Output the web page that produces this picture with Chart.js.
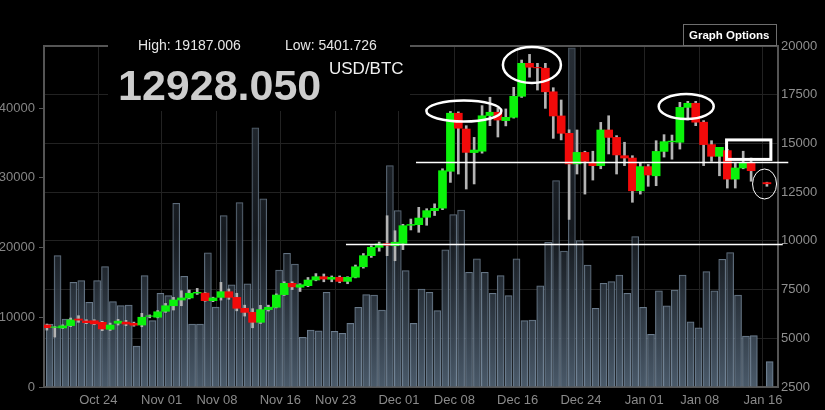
<!DOCTYPE html>
<html>
<head>
<meta charset="utf-8">
<script src="https://cdn.jsdelivr.net/npm/chart.js@4.4.1/dist/chart.umd.min.js"></script>
<style>
  html, body { margin: 0; padding: 0; background: #000; }
  #wrap { width: 825px; height: 410px; }
</style>
</head>
<body>
<div id="wrap"><canvas id="chart" width="825" height="410"></canvas></div>
<script>
// daily candles, Oct 17 .. Jan 16 (index 0 = Oct 17), null = no trade that day
const openP = [5680,5560,5530,5650,5990,5890,5900,5820,5460,5770,5830,5770,5680,6130,6080,
  6385,6670,6965,7070,7320,7320,6930,7100,7390,7100,6540,6330,5820,6470,6590,
  7240,7820,7620,7700,7990,8160,8030,8130,7920,8130,8670,9240,9670,9860,9750,
  9870,10800,10830,11210,11550,11680,13570,16550,15740,14530,14600,16430,16600,16170,16340,
  17420,19110,18900,18860,17650,16410,15520,13950,14540,14030,13860,15690,15310,14370,14250,
  12570,13810,13340,14590,15080,15060,16850,17060,16090,14940,14340,14630,13170,13740,14030,
  null,12990];
const highP = [5730,5600,5690,6040,6160,5950,5950,5870,5780,5970,5920,5830,6280,6200,6420,
  6790,7100,7440,7480,7560,7350,7110,7870,7530,7310,6700,6520,6690,6700,7280,
  7900,7900,7800,8120,8320,8300,8200,8200,8160,8760,9350,9750,9940,11290,10520,
  10850,11120,11720,11650,11900,13700,16640,16620,15910,15310,16940,17370,16820,16770,17880,
  19280,19570,19110,19110,17860,17230,15700,15690,14600,14600,16080,16420,15400,15060,14370,
  14000,13920,15140,15450,15430,17110,17160,17160,16170,15140,14800,14700,14030,14600,14250,
  null,13010];
const lowP = [5420,5060,5500,5600,5820,5750,5700,5390,5400,5680,5650,5620,5590,6050,6050,
  6330,6450,6670,7020,7250,6900,6880,6960,7000,6410,6140,5540,5760,6400,6560,
  7200,7500,7400,7650,7950,7900,7900,7850,7800,8100,8600,9150,9470,9240,8980,
  9550,10560,10440,10800,11300,11600,13000,13430,12660,12920,14500,15910,15330,15900,16300,
  17360,18400,17740,16800,15260,15180,11100,13430,12400,13120,13700,14460,13430,13860,11980,
  12400,12800,12830,14300,14190,14710,16200,15910,13860,14080,13340,12710,12710,13700,13060,
  null,12800];
const closeP = [5545,5580,5640,5940,5930,5800,5740,5480,5680,5880,5730,5670,6080,6150,6360,
  6670,6965,7070,7310,7360,6930,7070,7390,7100,6540,6330,5820,6470,6590,7220,
  7820,7640,7750,7990,8160,8040,8130,7920,8130,8670,9240,9670,9840,9770,9930,
  10780,10840,11170,11550,11670,13600,16550,15780,14540,14660,16420,16600,16200,16340,17420,
  19110,18910,18880,17650,16410,15520,13950,14540,14080,13860,15690,15310,14410,14250,12570,
  13810,13380,14590,15090,15120,16850,17060,16090,14940,14340,14800,13170,13740,14030,13600,
  null,12928];
const volume = [9030,18830,9750,15010,15250,12150,15250,17250,12240,11660,11760,5880,15960,9510,13440,
  13100,26340,15850,9030,9030,19240,11450,24570,14650,26430,14800,37140,26960,11500,16780,
  19170,17640,7130,8170,8070,13580,7990,7700,9130,11430,13240,13190,11040,31730,25280,
  16680,9130,14050,13580,10940,19650,24710,25380,16450,18360,16450,13440,15960,13090,18360,
  9510,9610,14500,20750,29580,19500,48610,20980,17490,11290,14870,15100,16060,13440,21550,
  11430,7560,13770,11620,13910,16060,9360,8500,16530,13770,18310,19260,13190,7310,7360,
  0,3630];

// x axis: days counted from Oct 24 00:00
const tickDays = [0, 8, 15, 23, 30, 38, 45, 53, 61, 69, 76, 84];
const tickLabels = ["Oct 24","Nov 01","Nov 08","Nov 16","Nov 23","Dec 01","Dec 08","Dec 16","Dec 24","Jan 01","Jan 08","Jan 16"];
const priceTicks = [2500, 5000, 7500, 10000, 12500, 15000, 17500, 20000];
const volumeTicks = [0, 10000, 20000, 30000, 40000];

const headHigh = "High: 19187.006";
const headLow = "Low: 5401.726";
const lastPrice = "12928.050";
const pair = "USD/BTC";

const UP = "#0af20a", DOWN = "#f20a0a", WICK = "#b4b4b4";
const FONT = "'Liberation Sans', Arial, sans-serif";

const bodies = [], wicks = [], bodyColors = [], vols = [];
openP.forEach((o, i) => {
  const day = i - 6.5;
  vols.push({ x: day + 0.35, y: volume[i] });
  if (o === null) return;
  bodies.push({ x: day, y: [o, closeP[i]] });
  wicks.push({ x: day, y: [lowP[i], highP[i]] });
  bodyColors.push(closeP[i] >= o ? UP : DOWN);
});

// hand-drawn marks on the picture
const marks = {
  lines: [ { from: 40.15, to: 87.2, price: 14050 }, { from: 31.3, to: 86.5, price: 9840 } ],
  ellipses: [
    { day: 46.2, price: 16664, rx: 37.5, ry: 10.5, w: 2.5 },
    { day: 54.8, price: 19025, rx: 29, ry: 18, w: 2.5 },
    { day: 74.3, price: 16895, rx: 27.5, ry: 12.5, w: 2.5 },
    { day: 84.2, price: 12918, rx: 12, ry: 15, w: 1 }
  ],
  box: { from: 79.4, to: 85.0, top: 15180, bottom: 14180, w: 3 }
};

let volGrad = null, volBorder = null;
function volFill(ctx) {
  const area = ctx.chart.chartArea;
  if (!area) return "#333";
  if (!volGrad) {
    const c = ctx.chart.ctx;
    volGrad = c.createLinearGradient(0, area.top, 0, area.bottom);
    volGrad.addColorStop(0, "rgba(46,54,63,0.85)");
    volGrad.addColorStop(0.55, "rgba(24,29,35,0.85)");
    volGrad.addColorStop(1, "rgba(80,97,114,0.92)");
    volBorder = c.createLinearGradient(0, area.top, 0, area.bottom);
    volBorder.addColorStop(0, "rgba(80,92,104,0.9)");
    volBorder.addColorStop(1, "rgba(128,148,168,0.9)");
  }
  return volGrad;
}

const plain = v => String(v);

const overlay = {
  id: "overlay",
  beforeDatasetsDraw(chart) {
    const { ctx, chartArea: a } = chart;
    ctx.save();
    ctx.strokeStyle = "#555";
    ctx.lineWidth = 2;
    ctx.strokeRect(a.left, a.top, a.right - a.left, a.bottom - a.top);
    ctx.fillStyle = "#000";
    ctx.fillRect(108, 0, 302, 111);
    ctx.restore();
  },
  afterDatasetsDraw(chart) {
    const { ctx } = chart;
    const xs = chart.scales.x, ys = chart.scales.yP;
    ctx.save();
    ctx.strokeStyle = "#fff";
    ctx.lineWidth = 1.5;
    marks.lines.forEach(l => {
      const y = Math.round(ys.getPixelForValue(l.price)) + 0.5;
      ctx.beginPath();
      ctx.moveTo(xs.getPixelForValue(l.from), y);
      ctx.lineTo(xs.getPixelForValue(l.to), y);
      ctx.stroke();
    });
    marks.ellipses.forEach(e => {
      ctx.lineWidth = e.w;
      ctx.beginPath();
      ctx.ellipse(xs.getPixelForValue(e.day), ys.getPixelForValue(e.price), e.rx, e.ry, 0, 0, Math.PI * 2);
      ctx.stroke();
    });
    const b = marks.box;
    ctx.lineWidth = b.w;
    const x1 = xs.getPixelForValue(b.from), x2 = xs.getPixelForValue(b.to);
    const y1 = ys.getPixelForValue(b.top), y2 = ys.getPixelForValue(b.bottom);
    ctx.strokeRect(x1, y1, x2 - x1, y2 - y1);
    ctx.restore();
  },
  afterDraw(chart) {
    const { ctx } = chart;
    ctx.save();
    ctx.textBaseline = "alphabetic";
    ctx.fillStyle = "#e6e6e6";
    ctx.font = "14px " + FONT;
    ctx.fillText(headHigh, 138, 50);
    ctx.fillText(headLow, 285, 50);
    ctx.fillStyle = "#cdcdcd";
    ctx.font = "bold 43px " + FONT;
    ctx.fillText(lastPrice, 118, 100);
    ctx.fillStyle = "#f2f2f2";
    ctx.font = "17px " + FONT;
    ctx.fillText(pair, 329, 74);
    // Graph Options button
    ctx.fillStyle = "#000";
    ctx.fillRect(683, 24, 94, 22);
    ctx.strokeStyle = "#6e6e6e";
    ctx.lineWidth = 1;
    ctx.strokeRect(683.5, 24.5, 93, 21);
    ctx.fillStyle = "#fff";
    ctx.font = "bold 11.5px " + FONT;
    ctx.textBaseline = "middle";
    ctx.fillText("Graph Options", 689, 36);
    ctx.restore();
  }
};

const ctx = document.getElementById("chart").getContext("2d");
const chart = new Chart(ctx, {
  type: "bar",
  data: {
    datasets: [
      { label: "body", data: bodies, yAxisID: "yP", backgroundColor: bodyColors,
        borderWidth: 0, barThickness: 8, grouped: false, order: 0 },
      { label: "wick", data: wicks, yAxisID: "yP", backgroundColor: WICK,
        borderWidth: 0, barThickness: 2, grouped: false, order: 1 },
      { label: "volume", data: vols, yAxisID: "yV", backgroundColor: volFill,
        borderColor: () => volBorder || "#678", borderWidth: 1, borderSkipped: "bottom",
        barThickness: 7, grouped: false, order: 2 }
    ]
  },
  options: {
    responsive: false,
    animation: false,
    events: [],
    layout: { padding: { top: 46, left: 0, right: 0, bottom: 0 } },
    plugins: { legend: { display: false }, tooltip: { enabled: false } },
    scales: {
      x: {
        type: "linear",
        offset: false,
        min: -6.862,
        max: 85.9,
        afterFit: s => { s.height = 23; },
        afterBuildTicks: s => { s.ticks = tickDays.map(v => ({ value: v })); },
        grid: { color: "#222", drawTicks: false, offset: false },
        border: { display: false },
        ticks: {
          autoSkip: false, maxRotation: 0, padding: 6,
          color: "#8a8a8a", font: { family: FONT, size: 13 },
          callback: (v, i) => tickLabels[i]
        }
      },
      yP: {
        type: "linear",
        position: "right",
        min: 2500,
        max: 20000,
        afterFit: s => { s.width = 47; },
        afterBuildTicks: s => { s.ticks = priceTicks.map(v => ({ value: v })); },
        grid: { color: "#222", drawTicks: false },
        border: { display: false },
        ticks: { padding: 3, color: "#8f8f8f", font: { family: FONT, size: 13 }, callback: plain }
      },
      yV: {
        type: "linear",
        position: "left",
        min: 0,
        max: 48889,
        afterFit: s => { s.width = 44; },
        afterBuildTicks: s => { s.ticks = volumeTicks.map(v => ({ value: v })); },
        grid: { drawOnChartArea: false, color: "#555", tickLength: 5 },
        border: { display: false },
        ticks: { padding: 4, color: "#858585", font: { family: FONT, size: 13 }, callback: plain }
      }
    }
  },
  plugins: [overlay]
});
</script>
</body>
</html>
